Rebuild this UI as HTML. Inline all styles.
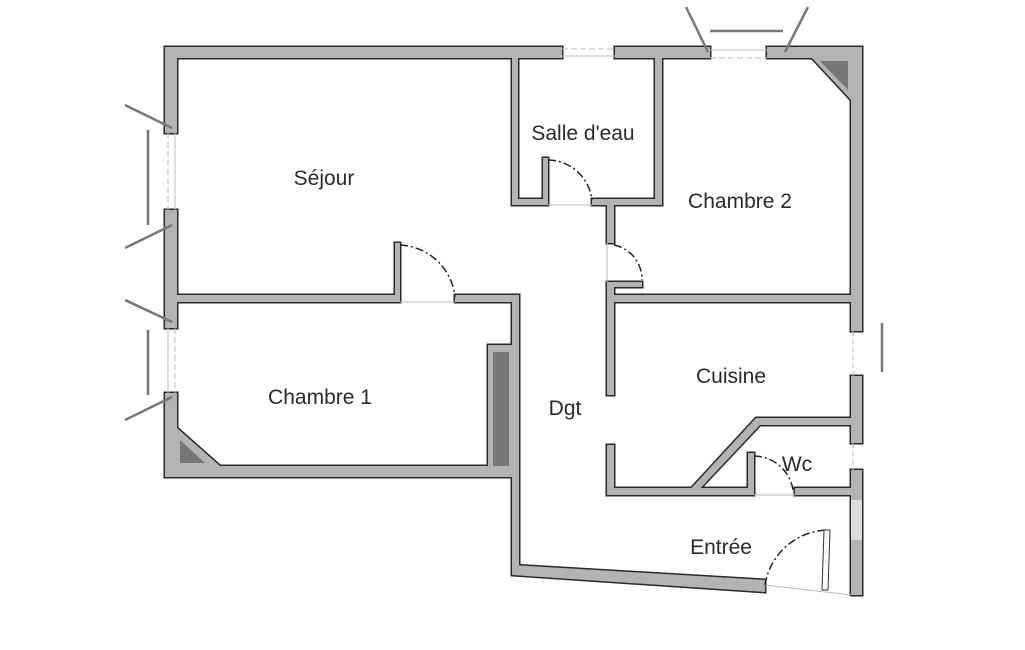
<!DOCTYPE html>
<html><head><meta charset="utf-8"><style>
html,body{margin:0;padding:0;background:#fff;width:1025px;height:650px;overflow:hidden}
svg text{font-family:"Liberation Sans","DejaVu Sans",sans-serif;font-size:21px;fill:#2a2a2a;text-anchor:middle}
</style></head><body>
<svg width="1025" height="650" viewBox="0 0 1025 650" xmlns="http://www.w3.org/2000/svg">
<defs>
<g id="walls">
<rect x="165" y="47" width="397" height="11"/>
<rect x="615" y="47" width="95" height="11"/>
<rect x="767" y="47" width="95" height="11"/>
<rect x="165" y="47" width="12" height="86"/>
<rect x="165" y="210" width="12" height="118"/>
<rect x="165" y="393" width="12" height="84"/>
<rect x="165" y="466" width="353" height="11"/>
<rect x="177" y="295" width="221" height="7"/>
<rect x="455" y="295" width="63" height="7"/>
<rect x="512" y="295" width="7" height="275"/>
<rect x="488" y="345" width="24" height="123"/>
<rect x="512" y="58" width="6" height="147"/>
<rect x="512" y="199" width="33" height="6"/>
<rect x="592" y="199" width="70" height="6"/>
<rect x="655" y="58" width="7" height="147"/>
<rect x="543" y="158" width="5" height="47"/>
<rect x="607" y="205" width="7" height="38"/>
<rect x="607" y="282" width="7" height="113"/>
<rect x="607" y="282" width="35" height="5"/>
<rect x="395" y="243" width="5" height="59"/>
<rect x="614" y="295" width="238" height="7"/>
<rect x="851" y="47" width="11" height="284"/>
<rect x="851" y="376" width="11" height="67"/>
<rect x="851" y="470" width="11" height="125"/>
<rect x="607" y="445" width="7" height="50"/>
<rect x="607" y="488" width="147" height="7"/>
<rect x="748" y="453" width="6" height="42"/>
<rect x="795" y="488" width="57" height="7"/>
<polygon points="685,495 756,418 851,418 851,425 760,425 694,495"/>
<polygon points="512,565 765,580 765,592 512,575"/>
<polygon points="812,58 851,58 851,100"/>
<polygon points="177,428 177,466 220,466"/>
</g>
</defs>
<use href="#walls" fill="#2a2a2a" stroke="#2a2a2a" stroke-width="3"/>
<use href="#walls" fill="#b3b3b3" stroke="none"/>
<g fill="#777" stroke="none">
<rect x="493" y="352" width="16" height="114"/>
<polygon points="820,61 848,61 848,90"/>
<polygon points="180,440 180,463 205,463"/>
</g>
<rect x="851" y="500" width="11" height="40" fill="#ddd"/>
<g stroke="#777" stroke-width="2.5" fill="none">
<line x1="125" y1="105" x2="172" y2="128"/>
<line x1="125" y1="248" x2="172" y2="225"/>
<line x1="148" y1="130" x2="148" y2="225"/>
<line x1="125" y1="300" x2="172" y2="322"/>
<line x1="125" y1="420" x2="172" y2="397"/>
<line x1="148" y1="330" x2="148" y2="395"/>
<line x1="686" y1="7" x2="708" y2="52"/>
<line x1="808" y1="7" x2="785" y2="52"/>
<line x1="710" y1="31" x2="783" y2="31"/>
<line x1="882" y1="323" x2="882" y2="372"/>
</g>
<g stroke="#bbb" stroke-width="1" fill="none">
<line x1="562" y1="49" x2="615" y2="49" stroke-dasharray="6,3"/>
<line x1="562" y1="56" x2="615" y2="56"/>
<line x1="710" y1="50" x2="767" y2="50"/>
<line x1="710" y1="58" x2="767" y2="58" stroke-dasharray="6,3"/>
<line x1="168" y1="133" x2="168" y2="210" stroke-dasharray="6,3"/>
<line x1="175" y1="133" x2="175" y2="210"/>
<line x1="168" y1="328" x2="168" y2="393"/>
<line x1="175" y1="328" x2="175" y2="393" stroke-dasharray="6,3"/>
<line x1="853" y1="331" x2="853" y2="376" stroke-dasharray="5,3"/>
<line x1="853" y1="443" x2="853" y2="470" stroke-dasharray="5,3"/>
<line x1="400" y1="302" x2="455" y2="302"/>
<line x1="548" y1="205" x2="592" y2="205"/>
<line x1="607" y1="243" x2="607" y2="282"/>
<line x1="754" y1="495" x2="795" y2="495"/>
<line x1="765" y1="585" x2="851" y2="595"/>
</g>
<g stroke="#222" stroke-width="1.5" fill="none" stroke-dasharray="8,3,2,3">
<path d="M400,245 A58,58 0 0 1 455,297"/>
<path d="M548,160 A45,45 0 0 1 592,200"/>
<path d="M614,245 A35,35 0 0 1 642,280"/>
<path d="M754,456 A40,40 0 0 1 793,490"/>
<path d="M765,585 A65,65 0 0 1 828,530"/>
</g>
<polygon points="824,530 830,530 828,590 822,590" fill="#fff" stroke="#333" stroke-width="1"/>
<text x="324" y="185">Séjour</text>
<text x="583" y="140">Salle d'eau</text>
<text x="740" y="208">Chambre 2</text>
<text x="320" y="404">Chambre 1</text>
<text x="731" y="383">Cuisine</text>
<text x="565" y="415">Dgt</text>
<text x="797" y="471">Wc</text>
<text x="721" y="554">Entrée</text>
</svg>
</body></html>
